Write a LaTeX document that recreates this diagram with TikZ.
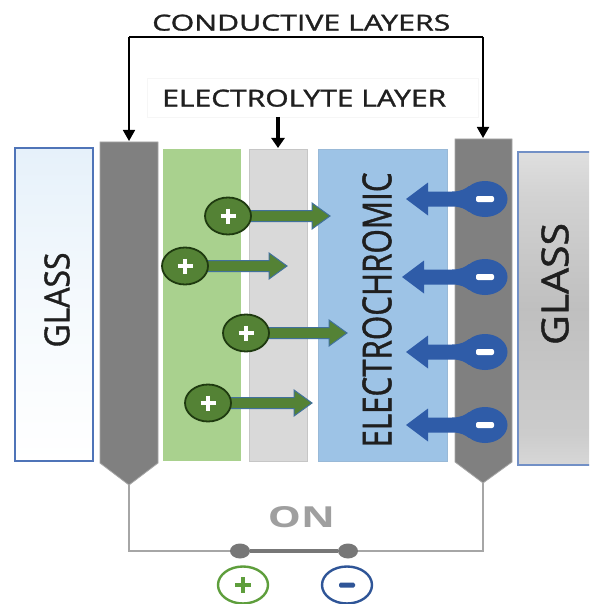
\documentclass[tikz,border=0pt]{standalone}
\usepackage{fontspec}
\setmainfont{Open Sans}
\newfontfamily\lblfont[FakeBold=1.2]{Open Sans}
\usepackage{graphicx}
\usetikzlibrary{arrows.meta,shapes.geometric}
\definecolor{condgray}{HTML}{808080}
\definecolor{layergreen}{HTML}{A9D18E}
\definecolor{layergray}{HTML}{D9D9D9}
\definecolor{layerblue}{HTML}{9DC3E6}
\definecolor{iongreen}{HTML}{548235}
\definecolor{iondark}{HTML}{1F3A10}
\definecolor{arrowblue}{HTML}{41719C}
\definecolor{negblue}{HTML}{2F5CA8}
\definecolor{glassblue}{HTML}{4F74B8}
\definecolor{glasstint}{HTML}{E6F1FA}
\definecolor{wiregray}{HTML}{A6A6A6}
\definecolor{dotgray}{HTML}{777777}
\definecolor{termgreen}{HTML}{5E9E3C}
\definecolor{termblue}{HTML}{2F5597}
\pgfdeclareverticalshading{silver}{100bp}{color(0bp)=(gray!15); color(12bp)=(gray!8); color(30bp)=(gray!40); color(50bp)=(gray!50); color(68bp)=(gray!35); color(80bp)=(gray!18); color(90bp)=(white); color(100bp)=(gray!50)}
\newcommand{\PosIon}[4]{%
  \draw[ionarrow] (#2,#3-5.5) -- (#4-18,#3-5.5) -- (#4-18,#3-13) -- (#4,#3) -- (#4-18,#3+13) -- (#4-18,#3+5.5) -- (#2,#3+5.5) -- cycle;
  \node[posion] (#1) at (#2,#3) {};
  \draw[white, line width=3.2] (#2-7.5,#3) -- (#2+7.5,#3) (#2,#3-7.5) -- (#2,#3+7.5);
}
\newcommand{\NegIon}[4]{%
  \fill[negblue] (#4,#3) -- (#4+22,#3-16.5) -- (#4+22,#3-7.5) -- (#2-33,#3-7.5) .. controls (#2-24,#3-7.5) and (#2-20,#3-10) .. (#2-16,#3-13) -- (#2-16,#3+13) .. controls (#2-20,#3+10) and (#2-24,#3+7.5) .. (#2-33,#3+7.5) -- (#4+22,#3+7.5) -- (#4+22,#3+16.5) -- cycle;
  \node[negion] (#1) at (#2,#3) {};
  \fill[white, rounded corners=2pt] (#2-9,#3-3) rectangle (#2+9,#3+3);
}
\begin{document}
\begin{tikzpicture}[x=1pt,y=-1pt,
  ionarrow/.style={fill=iongreen, draw=arrowblue, line width=1},
  posion/.style={ellipse, fill=iongreen, draw=iondark, line width=1.8, minimum width=46pt, minimum height=37pt, inner sep=0},
  negion/.style={ellipse, fill=negblue, minimum width=45pt, minimum height=36pt, inner sep=0},
  label/.style={inner sep=0, text=black!88, font=\lblfont},
  leader/.style={draw=black, line width=1.8, -{Triangle[width=12pt,length=11pt]}},
  wire/.style={draw=wiregray, line width=1.8},
  dot/.style={ellipse, fill=dotgray, minimum width=20pt, minimum height=15pt, inner sep=0},
  term/.style={ellipse, draw, line width=2.4, minimum width=50pt, minimum height=37pt, inner sep=0}]
\useasboundingbox (0,0) rectangle (589,604);
\fill[white] (0,0) rectangle (589,604);

% glass panels
\shade[top color=glasstint, bottom color=white, middle color=glasstint!40] (15,148) rectangle (93,461);
\draw[glassblue, line width=1.2] (15,148) rectangle (93,461);
\begin{scope}
\clip (0,0) rectangle (589,604);
\shade[shading=silver] (518,152) rectangle (600,465);
\draw[glassblue!80, line width=1.2] (600,152) -- (518,152) -- (518,465) -- (600,465);
\end{scope}

% layers
\fill[layergreen] (163,149) rectangle (241,461);
\draw[fill=layergray, draw=gray!45, line width=0.6] (249,149) rectangle (307,461);
\draw[fill=layerblue, draw=layerblue!85!gray, line width=0.6] (318,149) rectangle (447,461);

% conductive layers
\draw[fill=condgray, draw=gray!70, line width=0.8] (100,142) -- (158,142) -- (158,463) -- (129,485) -- (100,463) -- cycle;
\draw[fill=condgray, draw=gray!70, line width=0.8] (455,139) -- (512,139) -- (512,462) -- (483,483) -- (455,462) -- cycle;
\coordinate (ltip) at (129,485);
\coordinate (rtip) at (483,483);
\coordinate (ltop) at (129,141);
\coordinate (rtop) at (483,138);
\coordinate (elyt) at (278,148);

% labels
\node[label, anchor=south west] (cond) at (152,31) {\resizebox{298pt}{16pt}{CONDUCTIVE LAYERS}};
\draw[gray!7, line width=0.6] (147,78) rectangle (478,117);
\node[label, anchor=south west] (elec) at (162,107) {\resizebox{284pt}{17pt}{ELECTROLYTE LAYER}};
\draw[leader] (129,37) -- (ltop);
\draw[draw=black, line width=1.8] (129,37) -- (483,37);
\draw[leader] (483,37) -- (rtop);
\draw[draw=black, line width=3.5, -{Triangle[width=13pt,length=10pt]}] (278,117) -- (elyt);

\node[label, rotate=90] (ecl) at (377,310) {\resizebox{275pt}{29pt}{ELECTROCHROMIC}};
\node[label, rotate=90] (glassL) at (57,300) {\resizebox{95pt}{25pt}{GLASS}};
\node[label, rotate=90] (glassR) at (555,284) {\resizebox{122pt}{27pt}{GLASS}};

% ions
\PosIon{p1}{228}{216}{330}
\PosIon{p2}{185}{266}{287}
\PosIon{p3}{246}{333}{347}
\PosIon{p4}{208}{403}{312}
\NegIon{n1}{485}{199}{406}
\NegIon{n2}{485}{277}{402}
\NegIon{n3}{485}{352}{406}
\NegIon{n4}{485}{425}{406}

% circuit
\coordinate (lb) at (129,551);
\coordinate (rb) at (483,551);
\node[dot] (d1) at (240,551) {};
\node[dot] (d2) at (348,551) {};
\draw[wire] (ltip) -- (lb) -- (d1);
\draw[wire] (d2) -- (rb) -- (rtip);
\draw[draw=dotgray, line width=4] (d1) -- (d2);
\node[inner sep=0, text=gray!75] (on) at (301.5,517.5) {\resizebox{67pt}{21pt}{\bfseries ON}};

\node[term, draw=termgreen] (plus) at (243,585) {};
\draw[termgreen, line width=3.4] (235,585) -- (251,585) (243,577) -- (243,593);
\node[term, draw=termblue] (minus) at (347,585) {};
\fill[termblue, rounded corners=1.5pt] (339,582.5) rectangle (355,587.5);
\end{tikzpicture}
\end{document}
